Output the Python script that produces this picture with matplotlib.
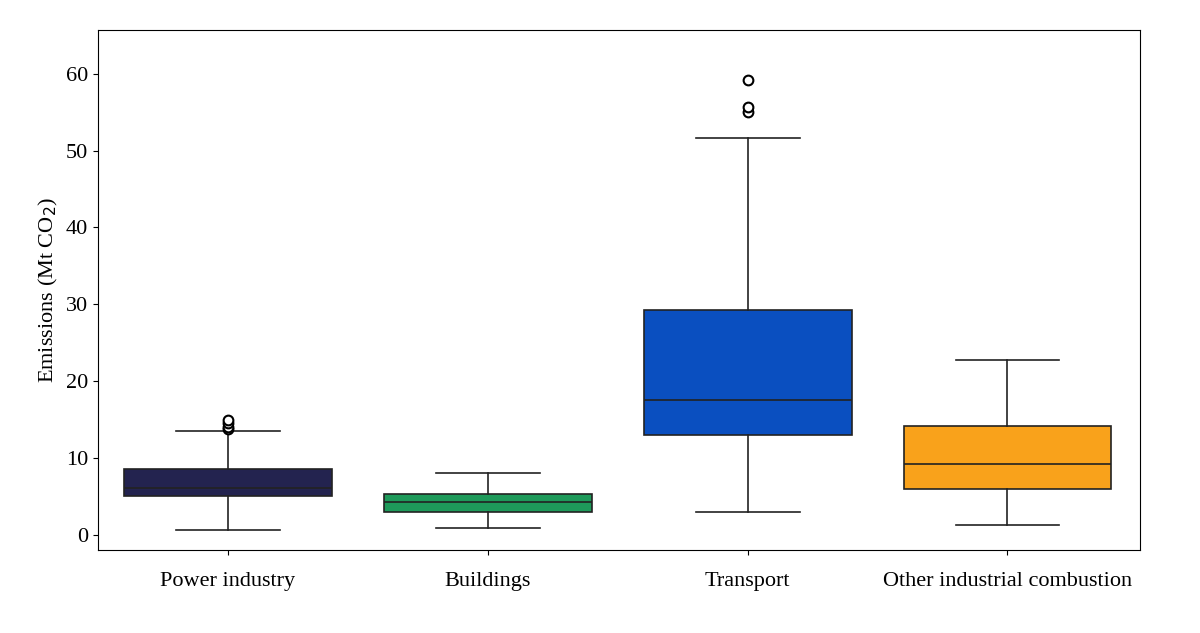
import matplotlib.pyplot as plt

plt.rcParams['font.family'] = ['Liberation Serif', 'DejaVu Serif']

sectors = ['Power industry', 'Buildings', 'Transport', 'Other industrial combustion']
whis_low = [0.6, 0.9, 2.9, 1.2]
q1 = [5.0, 3.0, 13.0, 5.9]
medians = [6.1, 4.2, 17.5, 9.2]
q3 = [8.5, 5.3, 29.2, 14.1]
whis_high = [13.5, 8.0, 51.6, 22.8]
outliers = [[13.7, 14.0, 14.5, 14.9], [], [55.0, 55.7, 59.2], []]
colors = ['#23234f', '#1e9a5a', '#0a4fc0', '#f9a21b']

stats = []
for i in range(len(sectors)):
    stats.append({'whislo': whis_low[i], 'q1': q1[i], 'med': medians[i],
                  'q3': q3[i], 'whishi': whis_high[i], 'fliers': outliers[i]})

fig = plt.figure(figsize=(12, 6.33), dpi=100)
ax = fig.add_axes([98 / 1200, 1 - 550 / 633, (1140 - 98) / 1200, (550 - 30) / 633])

bp = ax.bxp(stats, positions=range(len(sectors)), widths=0.8, patch_artist=True,
            medianprops=dict(color='#222222', linewidth=1.2),
            whiskerprops=dict(color='#222222', linewidth=1.2),
            capprops=dict(color='#222222', linewidth=1.2),
            flierprops=dict(marker='o', markerfacecolor='white', markeredgecolor='black',
                            markersize=7, markeredgewidth=1.5))
for patch, c in zip(bp['boxes'], colors):
    patch.set_facecolor(c)
    patch.set_edgecolor('#222222')
    patch.set_linewidth(1.2)

# cap widths similar to reference
ax.set_xlim(-0.5, 3.51)
ax.set_ylim(-2, 65.7)
ax.set_yticks([0, 10, 20, 30, 40, 50, 60])
ax.set_xticks(range(len(sectors)))
ax.set_xticklabels(sectors, fontsize=16)
ax.tick_params(axis='y', labelsize=16)
ax.tick_params(axis='x', pad=12)
ax.set_ylabel('Emissions (Mt CO$_2$)', fontsize=16)

fig.savefig('out.png')
